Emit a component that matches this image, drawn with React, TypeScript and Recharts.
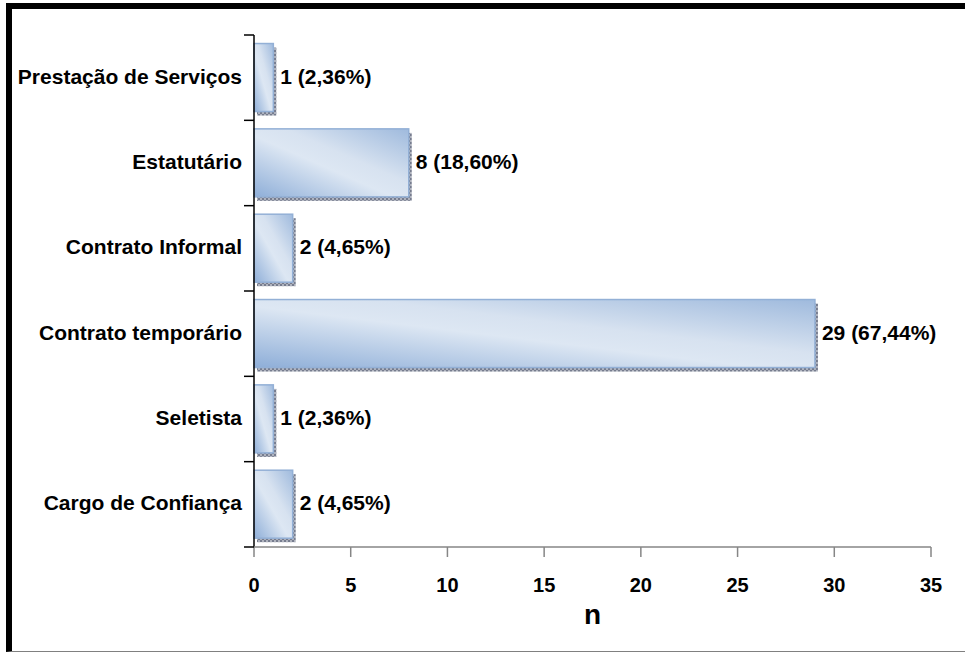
import { BarChart, Bar, XAxis, YAxis, LabelList } from "recharts"

const categories = [
  "Prestação de Serviços",
  "Estatutário",
  "Contrato Informal",
  "Contrato temporário",
  "Seletista",
  "Cargo de Confiança",
]

const counts = [1, 8, 2, 29, 1, 2]

const percents = ["2,36%", "18,60%", "4,65%", "67,44%", "2,36%", "4,65%"]

const xTicks = [0, 5, 10, 15, 20, 25, 30, 35]

const data = categories.map((name, i) => ({
  name,
  n: counts[i],
  pct: percents[i],
}))

const FONT = "'Liberation Sans', Arial, Helvetica, sans-serif"
const TICK_SIZE = 10
const TICK_MARGIN = 2

// label at the band centre, tick marks on the band boundaries (Excel style)
function CategoryTick(props: any) {
  const { x, y, payload, index, height, visibleTicksCount } = props
  const count = visibleTicksCount || categories.length
  const band = (height || 512) / count
  const x1 = x + TICK_MARGIN
  const x2 = x1 + TICK_SIZE
  return (
    <g>
      <line
        x1={x1}
        x2={x2}
        y1={y - band / 2}
        y2={y - band / 2}
        stroke="#000"
        strokeWidth={1.5}
      />
      {index === count - 1 && (
        <line
          x1={x1}
          x2={x2}
          y1={y + band / 2}
          y2={y + band / 2}
          stroke="#000"
          strokeWidth={1.5}
        />
      )}
      <text
        x={x}
        y={y}
        dy={6}
        textAnchor="end"
        fill="#000"
        fontSize={21}
        fontWeight="bold"
        fontFamily={FONT}
      >
        {payload.value}
      </text>
    </g>
  )
}

function BarShape(props: any) {
  const { x, y, width, height } = props
  if (!width || !height) return null
  return (
    <g>
      <rect
        x={x + 3}
        y={y + 4}
        width={width}
        height={height}
        fill="url(#shadowPat)"
      />
      <rect
        x={x}
        y={y}
        width={width}
        height={height}
        fill="url(#barFill)"
        stroke="#93b0d6"
        strokeWidth={1.5}
      />
    </g>
  )
}

function ValueLabel(props: any) {
  const { x, y, width, height, index } = props
  return (
    <text
      x={x + width + 7}
      y={y + height / 2}
      dy={6}
      fill="#000"
      fontSize={21}
      fontWeight="bold"
      fontFamily={FONT}
    >
      {`${counts[index]} (${percents[index]})`}
    </text>
  )
}

export default function App() {
  return (
    <div
      style={{
        position: "absolute",
        left: 0,
        top: 0,
        width: 965,
        height: 654,
        background: "#fff",
        overflow: "hidden",
      }}
    >
      <svg width={0} height={0} style={{ position: "absolute" }}>
        <defs>
          <linearGradient id="barFill" x1="0" y1="1" x2="1" y2="0">
            <stop offset="0%" stopColor="#8eaed8" />
            <stop offset="45%" stopColor="#dde7f3" />
            <stop offset="60%" stopColor="#d7e2f0" />
            <stop offset="100%" stopColor="#9fbadd" />
          </linearGradient>
          <pattern
            id="shadowPat"
            width={4}
            height={4}
            patternUnits="userSpaceOnUse"
          >
            <rect width={4} height={4} fill="#aeb2bd" />
            <rect width={2} height={2} fill="#767c8e" />
            <rect x={2} y={2} width={2} height={2} fill="#767c8e" />
          </pattern>
        </defs>
      </svg>

      <div
        style={{
          position: "absolute",
          left: 6,
          top: 3,
          width: 959,
          height: 649,
          boxSizing: "border-box",
          borderLeft: "6px solid #000",
          borderTop: "6px solid #000",
          borderBottom: "1px solid #808080",
        }}
      />

      <BarChart
        width={965}
        height={654}
        data={data}
        layout="vertical"
        barCategoryGap="10%"
        margin={{ top: 35, right: 34, bottom: 27, left: 0 }}
        style={{ position: "absolute", left: 0, top: 0 }}
      >
        <YAxis
          type="category"
          dataKey="name"
          width={254}
          axisLine={{ stroke: "#000", strokeWidth: 1.5 }}
          tickLine={false}
          tickSize={TICK_SIZE}
          tickMargin={TICK_MARGIN}
          interval={0}
          tick={<CategoryTick />}
        />
        <XAxis
          type="number"
          domain={[0, 35]}
          ticks={xTicks}
          height={80}
          tickSize={10}
          tickMargin={21}
          axisLine={{ stroke: "#868686", strokeWidth: 1.5 }}
          tickLine={{ stroke: "#868686", strokeWidth: 1.5 }}
          tick={{
            fill: "#000",
            fontSize: 20,
            fontWeight: "bold",
            fontFamily: FONT,
          }}
          label={{
            value: "n",
            position: "insideBottom",
            offset: 3,
            fill: "#000",
            fontSize: 28,
            fontWeight: "bold",
            fontFamily: FONT,
          }}
        />
        <Bar
          dataKey="n"
          shape={<BarShape />}
          isAnimationActive={false}
        >
          <LabelList dataKey="pct" content={<ValueLabel />} />
        </Bar>
      </BarChart>
    </div>
  )
}
